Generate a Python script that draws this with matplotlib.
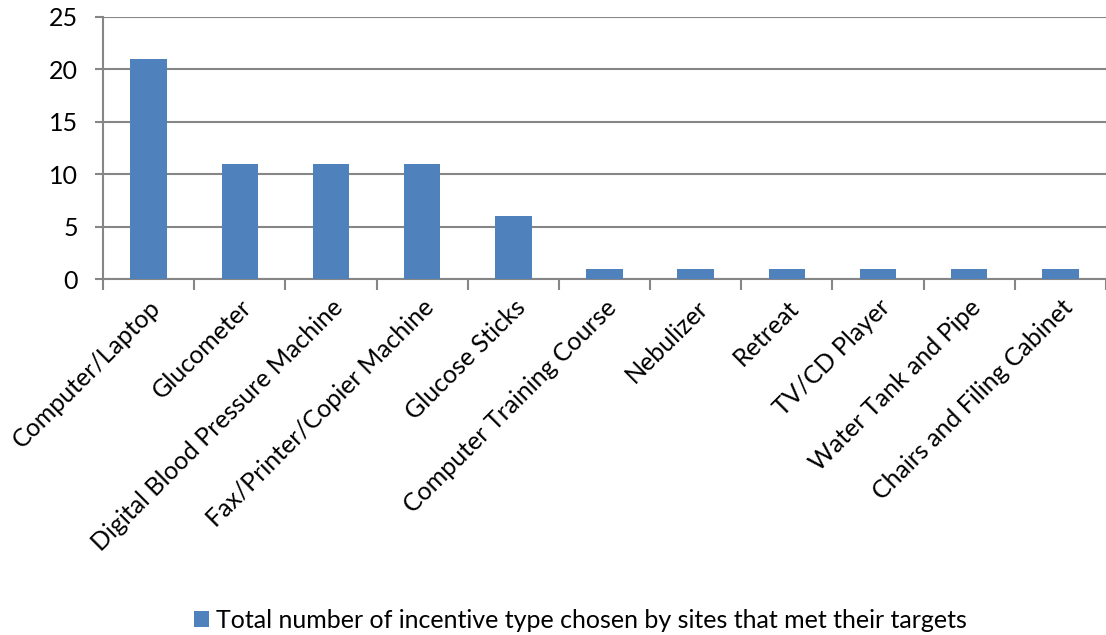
import matplotlib
matplotlib.use("Agg")
import matplotlib.pyplot as plt
import numpy as np

categories = [
    "Computer/Laptop",
    "Glucometer",
    "Digital Blood Pressure Machine",
    "Fax/Printer/Copier Machine",
    "Glucose Sticks",
    "Computer Training Course",
    "Nebulizer",
    "Retreat",
    "TV/CD Player",
    "Water Tank and Pipe",
    "Chairs and Filing Cabinet",
]
counts = [21, 11, 11, 11, 6, 1, 1, 1, 1, 1, 1]
series_label = "Total number of incentive type chosen by sites that met their targets"
y_ticks = [0, 5, 10, 15, 20, 25]

plt.rcParams["font.family"] = ["Lato", "DejaVu Sans"]

bar_color = "#4F81BD"
grid_color = "#868686"

fig = plt.figure(figsize=(11.06, 6.35), dpi=100)
ax = fig.add_axes([103 / 1106, 1 - 279 / 635, 1 - 103 / 1106, (279 - 17) / 635])

x = np.arange(len(categories))
bars = ax.bar(x, counts, width=0.4, color=bar_color, zorder=3, label=series_label)

ax.set_xlim(-0.5, len(categories) - 0.5)
ax.set_ylim(0, 25)
ax.set_yticks(y_ticks)
ax.yaxis.grid(True, color=grid_color, linewidth=1.5, zorder=0)

for side in ["top", "right"]:
    ax.spines[side].set_visible(False)
for side in ["left", "bottom"]:
    ax.spines[side].set_color(grid_color)
    ax.spines[side].set_linewidth(1.5)

ax.set_xticks(x)
ax.set_xticklabels(categories, rotation=45, ha="right", rotation_mode="anchor", fontsize=18)
ax.set_xticks(np.arange(len(categories) + 1) - 0.5, minor=True)
ax.tick_params(axis="x", which="major", length=0, pad=12)
ax.tick_params(axis="x", which="minor", length=8, width=1.5, color=grid_color)
ax.tick_params(axis="y", length=6, width=1.5, color=grid_color, labelsize=18, pad=12)

fig.legend(handles=[bars], labels=[series_label], loc="center", bbox_to_anchor=(0.525, 1 - 620 / 635),
           frameon=False, fontsize=18, handlelength=0.6, handleheight=0.6, handletextpad=0.3)

fig.savefig("out.png", dpi=100)
